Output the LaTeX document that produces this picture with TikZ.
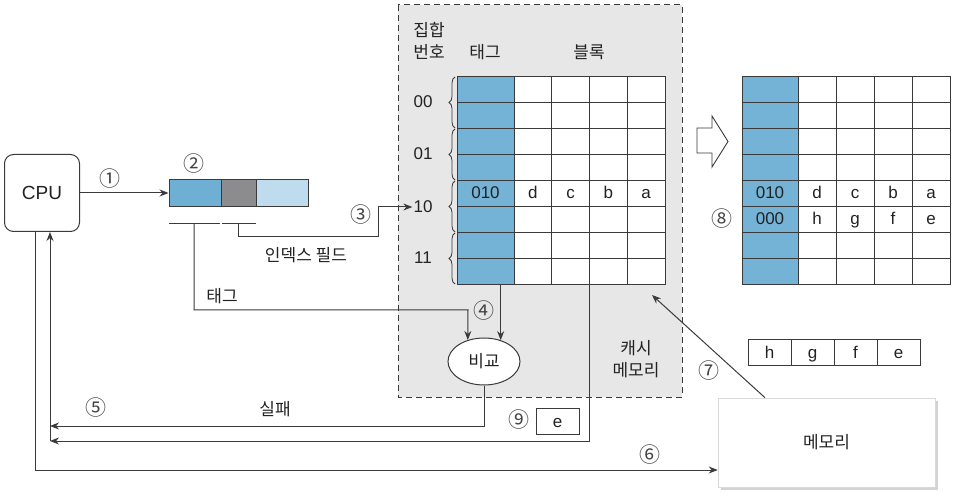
\documentclass[tikz,border=0pt]{standalone}
\usepackage{fontspec}
\setmainfont{Liberation Sans}
\newfontfamily\kr{Noto Sans CJK KR}
\usetikzlibrary{arrows.meta,shapes.geometric,decorations.pathreplacing,shadows,calc}
\definecolor{lc}{HTML}{3A3A3A}
\definecolor{tc}{HTML}{222222}
\definecolor{tagblue}{HTML}{74B3D6}
\definecolor{regblue}{HTML}{6FAFD4}
\definecolor{reggray}{HTML}{8C8C8F}
\definecolor{reglight}{HTML}{BEDCEE}
\definecolor{cachebg}{HTML}{E7E7E7}
\tikzset{
  ln/.style={draw=lc, line width=1pt},
  arr/.style={ln, -{Stealth[length=9pt,width=7pt]}},
  lat/.style={font=\fontsize{17}{17}\selectfont, text=tc, inner sep=1pt},
  cl/.style={font=\fontsize{17}{17}\selectfont, text=tc, inner sep=0pt, text height=12pt, text depth=0pt},
  kor/.style={font=\kr\fontsize{17}{22}\selectfont, text=tc, inner sep=1pt, align=center},
  num/.style={font=\kr\fontsize{21}{21}\selectfont, text=tc!85, inner sep=0pt},
  grid/.style={draw=lc, line width=0.9pt},
  brc/.style={draw=lc, line width=0.8pt, decorate, decoration={brace, amplitude=6pt}},
  boxc/.style={draw=lc, line width=0.9pt, minimum width=43pt, minimum height=26pt, inner sep=0pt,
     font=\fontsize{17}{17}\selectfont, text=tc, text height=12pt, text depth=0pt},
}
\begin{document}
\begin{tikzpicture}[x=1pt,y=-1pt]
\useasboundingbox (0,0) rectangle (954,497);

% cache memory area
\draw[ln, dashed, dash pattern=on 6pt off 4pt, fill=cachebg] (398,5) rectangle (682,397);

% CPU
\node[ln, rounded corners=9pt, minimum width=75pt, minimum height=77pt, inner sep=0pt,
      font=\fontsize{19}{19}\selectfont, text=tc] (cpu) at (42,193) {CPU};

% address register
\node[ln, fill=regblue, minimum width=52pt, minimum height=27pt, inner sep=0pt] (reg1) at (195,193) {};
\node[ln, fill=reggray, minimum width=35pt, minimum height=27pt, inner sep=0pt] (reg2) at (238.5,193) {};
\node[ln, fill=reglight, minimum width=52pt, minimum height=27pt, inner sep=0pt] (reg3) at (282,193) {};
\draw[ln] (169,224) -- (220,224);
\draw[ln] (222,224) -- (256,224);
\coordinate (tagfield) at (194,224);
\coordinate (idxfield) at (238,224);

\draw[arr] (cpu.east) -- (reg1.west);
\node[num] (n1) at (110,179) {①};
\node[num] (n2) at (194,164) {②};

% headings
\node[kor] (sethdr) at (429,41) {집합\\번호};
\node[kor] (taghdr) at (485,52) {태그};
\node[kor] (blkhdr) at (589,52) {블록};

% left cache table
\fill[white] (457,76) rectangle (665,284);
\fill[tagblue] (457,76) rectangle (514,284);
\draw[grid] (457,76) rectangle (665,284);
\foreach \y in {102,128,...,258} \draw[grid] (457,\y) -- (665,\y);
\foreach \x in {514,551.75,589.5,627.25} \draw[grid] (\x,76) -- (\x,284);
\coordinate (tb) at (457,284);
\node[cl] (lt) at (485.5,193) {010};
\node[cl] (ld) at (532.9,193) {d};
\node[cl] (lc1) at (570.6,193) {c};
\node[cl] (lb) at (608.4,193) {b};
\node[cl] (la) at (646.1,193) {a};

% set numbers and braces
\node[lat] (s00) at (423,102) {00};
\node[lat] (s01) at (423,154) {01};
\node[lat] (s10) at (423,207) {10};
\node[lat] (s11) at (423,258) {11};
\draw[brc] (455,128) -- (455,77);
\draw[brc] (455,180) -- (455,129);
\draw[brc] (455,232) -- (455,181);
\draw[brc] (455,284) -- (455,233);

% index path (3)
\draw[arr] (idxfield) |- (378,237) |- (s10.west);
\node[num] (n3) at (361,215) {③};
\node[kor] (idxlbl) at (306,255) {인덱스 필드};

% compare
\node[ln, ellipse, fill=white, minimum width=72pt, minimum height=47pt, inner sep=0pt,
      font=\kr\fontsize{17}{17}\selectfont, text=tc] (cmp) at (484,361.5) {비교};
\draw[arr] (tagfield) |- (468,310) -- (cmp.127);
\node[kor] (taglbl) at (222,296) {태그};
\draw[arr] (cmp.52 |- tb) -- (cmp.52);
\node[num] (n4) at (484,311) {④};

% fail path (5)
\draw[arr] (cmp.south) |- (50,426);
\node[num] (n5) at (96,408) {⑤};
\node[kor] (faillbl) at (275,409) {실패};
\draw[arr] (589.5,284) |- (50,441);
\draw[arr] (50,441) -- (50,0 |- cpu.south);

% to memory (6)
\node[draw=gray!30, line width=0.6pt, fill=white, drop shadow={shadow xshift=2.5pt, shadow yshift=-2.5pt, opacity=0.35},
      minimum width=217pt, minimum height=89pt, inner sep=0pt,
      font=\kr\fontsize{17}{17}\selectfont, text=tc] (mem) at (826.5,442.5) {메모리};
\draw[arr] (35,0 |- cpu.south) |- (mem.west |- 0,470);
\node[num] (n6) at (650,455) {⑥};

% (7)
\coordinate (c7) at (652,295);
\draw[arr] (mem.north -| 765,0) -- (c7);
\node[num] (n7) at (709,371) {⑦};
\node[kor] (cachelbl) at (636,359) {캐시\\메모리};

% hgfe block
\node[boxc] (bh) at (769.5,352.5) {h};
\node[boxc] (bg) at (812.5,352.5) {g};
\node[boxc] (bf) at (855.5,352.5) {f};
\node[boxc] (be) at (898.5,352.5) {e};

% (9)
\node[boxc, fill=white] (e9) at (557.5,421) {e};
\node[num] (n9) at (519,420) {⑨};

% hollow arrow
\draw[ln, fill=white, line width=0.9pt] (697,128) -- (712,128) -- (712,116) -- (728,141.5) -- (712,167) -- (712,153) -- (697,153) -- cycle;

% right cache table
\fill[tagblue] (742,76) rectangle (798,284);
\draw[grid] (742,76) rectangle (950,284);
\foreach \y in {102,128,...,258} \draw[grid] (742,\y) -- (950,\y);
\foreach \x in {798,836,874,912} \draw[grid] (\x,76) -- (\x,284);
\node[cl] (rt1) at (770,193) {010};
\node[cl] (rd) at (817,193) {d};
\node[cl] (rc) at (855,193) {c};
\node[cl] (rb) at (893,193) {b};
\node[cl] (ra) at (931,193) {a};
\node[cl] (rt2) at (770,219) {000};
\node[cl] (rh) at (817,219) {h};
\node[cl] (rg) at (855,219) {g};
\node[cl] (rf) at (893,219) {f};
\node[cl] (re) at (931,219) {e};
\node[num] (n8) at (722,219) {⑧};
\end{tikzpicture}
\end{document}
